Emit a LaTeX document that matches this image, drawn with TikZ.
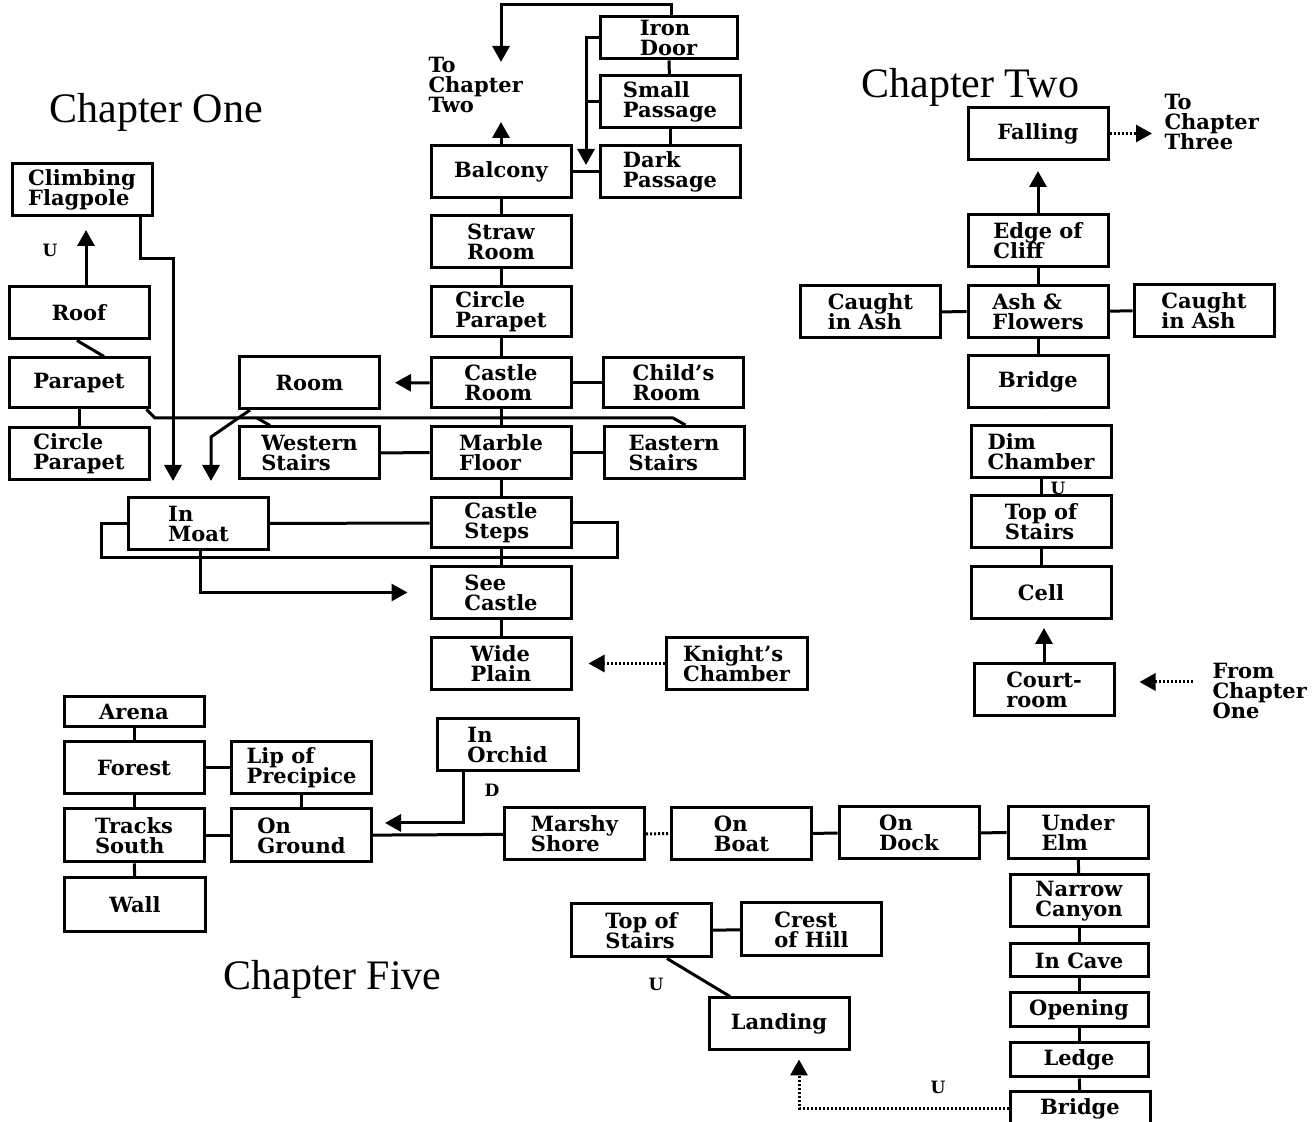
\documentclass[tikz,border=0pt]{standalone}
\usepackage{fontspec}
\setmainfont{DejaVu Serif}
\newfontfamily\chapfont{Liberation Serif}
\usetikzlibrary{arrows.meta,calc}
\lineskiplimit=-20pt
\newcommand\scenefont{\bfseries\fontsize{10.5}{10}\selectfont}

\begin{document}
\begin{tikzpicture}[x=0.5pt,y=-0.5pt,line width=1.5pt,
  scene/.style={draw,minimum width=70pt,minimum height=26pt,inner sep=0pt,align=left,font=\scenefont},
  lbl/.style={inner sep=0pt,align=left,font=\scenefont},
  tag/.style={inner sep=0pt,font=\bfseries\fontsize{8.5}{8.5}\selectfont},
  chap/.style={inner sep=0pt,anchor=base west,font=\chapfont\fontsize{21}{21}\selectfont},
  arr/.style={-{Triangle[length=8pt,width=8.5pt]}},
  dots/.style={dash pattern=on 1pt off 1pt}]
\useasboundingbox (0,0) rectangle (1314,1122);
\clip (0,0) rectangle (1314,1122);

\node[chap] (chone) at (48,123) {Chapter One};
\node[chap] (chtwo) at (860,98) {Chapter Two};
\node[chap] (chfive) at (222,990) {Chapter Five};

\node[scene] (flagpole) at (82,189.5) {Climbing\\Flagpole};
\node[scene] (roof) at (79,313) {Roof};
\node[scene,minimum height=25pt] (parapet) at (79,383) {Parapet};
\node[scene] (circpar) at (79,453.5) {Circle\\Parapet};
\node[scene] (sideroom) at (309.5,382.5) {Room};
\node[scene] (western) at (309.5,453) {Western\\Stairs};
\node[scene] (moat) at (198.5,523.5) {In\\Moat};
\node[tag] (u1) at (50,250) {U};

\node[scene] (balcony) at (501,171.5) {Balcony};
\node[scene] (straw) at (501,242) {Straw\\Room};
\node[scene,minimum height=25pt] (circle2) at (501,312) {Circle\\Parapet};
\node[scene,minimum height=25pt] (castleroom) at (501,383) {Castle\\Room};
\node[scene,minimum height=25pt] (childs) at (673.5,383) {Child's\\Room};
\node[scene] (marble) at (501,452.5) {Marble\\Floor};
\node[scene] (eastern) at (674,452.5) {Eastern\\Stairs};
\node[scene,minimum height=25pt] (steps) at (501,523) {Castle\\Steps};
\node[scene] (seecastle) at (501,592.5) {See\\Castle};
\node[scene] (wideplain) at (501,663.5) {Wide\\Plain};
\node[scene,minimum width=70.5pt] (knight) at (736.5,663.5) {Knight's\\Chamber};
\node[scene,minimum width=68.5pt,minimum height=21pt] (irondoor) at (668.5,38) {Iron\\Door};
\node[scene] (smallpass) at (670,101.5) {Small\\Passage};
\node[scene] (darkpass) at (670,171.5) {Dark\\Passage};
\node[lbl,anchor=north west] (totwo) at (427,56) {To\\Chapter\\Two};

\node[scene] (falling) at (1038,133.5) {Falling};
\node[scene] (edge) at (1038,241) {Edge of\\Cliff};
\node[scene] (ash) at (1038,311.5) {Ash \&\\Flowers};
\node[scene] (caughtl) at (870.5,312) {Caught\\in Ash};
\node[scene] (caughtr) at (1204,310.5) {Caught\\in Ash};
\node[scene] (bridgetwo) at (1038,381.5) {Bridge};
\node[scene] (dim) at (1041,451.5) {Dim\\Chamber};
\node[scene] (topstairs) at (1041,521.5) {Top of\\Stairs};
\node[scene] (cell) at (1041,592.5) {Cell};
\node[scene] (court) at (1044,690) {Court-\\room};
\node[lbl,anchor=north west] (tothree) at (1163,93) {To\\Chapter\\Three};
\node[lbl,anchor=north west] (fromone) at (1211,662) {From\\Chapter\\One};
\node[tag] (u2) at (1058,488) {U};

\node[scene,minimum height=15pt] (arena) at (134,712) {Arena};
\node[scene] (forest) at (134,768) {Forest};
\node[scene] (lip) at (301.5,768) {Lip of\\Precipice};
\node[scene,minimum height=26.5pt] (tracks) at (134,835.5) {Tracks\\South};
\node[scene,minimum height=26.5pt] (ground) at (301.5,835.5) {On\\Ground};
\node[scene,minimum width=70.5pt,minimum height=27pt] (wall) at (135,905) {Wall};
\node[scene,minimum width=70.5pt] (orchid) at (507.5,745) {In\\Orchid};
\node[scene] (marshy) at (574.5,834) {Marshy\\Shore};
\node[scene] (boat) at (741.5,833.5) {On\\Boat};
\node[scene] (dock) at (909,833) {On\\Dock};
\node[scene] (elm) at (1078,832.5) {Under\\Elm};
\node[scene,minimum width=69pt] (canyon) at (1079,901) {Narrow\\Canyon};
\node[scene,minimum width=69pt,minimum height=16.5pt] (cave) at (1079,960.5) {In Cave};
\node[scene,minimum width=69pt,minimum height=17pt] (opening) at (1079,1010) {Opening};
\node[scene,minimum width=69pt,minimum height=17pt] (ledge) at (1079,1060) {Ledge};
\node[scene,minimum height=17pt] (bridgefive) at (1080,1109) {Bridge};
\node[scene,minimum height=26.5pt] (topfive) at (641.5,930.5) {Top of\\Stairs};
\node[scene,minimum height=26.5pt] (crest) at (811.5,929.5) {Crest\\of Hill};
\node[scene] (landing) at (779,1024) {Landing};
\node[tag] (d1) at (492,790) {D};
\node[tag] (u3) at (656,984) {U};
\node[tag] (u4) at (938,1087) {U};

\coordinate (flagin) at (86,230);
\draw[arr] (roof.north -| flagin) -- (flagin);
\draw ($(roof.south)+(-2,0)$) -- ($(parapet.north)+(25,0)$);
\path (parapet) edge (circpar);
\draw[arr,shorten >=7.5pt] ($(flagpole.south)+(58,0)$) -- ++(0,42) -| ($(moat.north)+(-25.5,0)$);
\draw[arr,shorten >=7.5pt] ($(sideroom.south)+(-59.5,0)$) -- ++(-39,27) -- ($(moat.north)+(12.5,0)$);
\draw ($(parapet.south east)+(-4,0)$) -- (155,418) -- (673,418) -- ($(eastern.north west)+(83,0)$);
\draw ($(western.north west)+(32,0)$) -- (257,418);
\path (western) edge (marble);
\draw[arr,shorten >=7pt] (castleroom) -- (sideroom);
\path (moat) edge (steps);
\draw (moat.west) -- ++(-26,0) |- (617,558) |- (steps.east);
\draw[arr,shorten >=11pt] ($(moat.south)+(1.5,0)$) |- (seecastle.west);

\path (balcony) edge (straw) (straw) edge (circle2) (circle2) edge (castleroom)
  (castleroom) edge (marble) (marble) edge (steps) (steps) edge (seecastle) (seecastle) edge (wideplain);
\path (castleroom) edge (childs) (marble) edge (eastern);
\path (balcony) edge (darkpass) (irondoor) edge (smallpass) (smallpass) edge (darkpass);
\coordinate (twoup) at (501,122);
\draw[arr] (balcony.north) -- (twoup);
\coordinate (twodown) at (501,62);
\draw[arr] ($(irondoor.north)+(3,0)$) -- ++(0,-11) -| (twodown);
\coordinate (darkin) at (586,165);
\draw[arr] (irondoor.west) -- (irondoor.west -| darkin) -- (darkin);
\draw (smallpass.west) -- (smallpass.west -| darkin);
\draw[arr,dots,shorten >=8pt] (knight) -- (wideplain);

\path (edge) edge (ash) (ash) edge (bridgetwo) (bridgetwo) edge (bridgetwo.south -| dim.north)
  (dim) edge (topstairs) (topstairs) edge (cell);
\path (caughtl) edge (ash) (ash) edge (caughtr);
\draw[arr,shorten >=5pt] (edge) -- (falling);
\coordinate (threeout) at (1152,133.5);
\draw[arr,dots] (falling) -- (threeout);
\draw[arr,shorten >=4pt] (court.north) -- (court.north |- cell.south);
\coordinate (onein) at (1193,682);
\draw[arr,dots,shorten >=12pt] (onein) -- (onein -| court.east);

\path (arena) edge (forest) (forest) edge (tracks) (tracks) edge (wall) (forest) edge (lip)
  (tracks) edge (ground) (lip) edge (ground) (ground) edge (marshy) (boat) edge (dock) (dock) edge (elm)
  (elm) edge (canyon) (canyon) edge (cave) (cave) edge (opening) (opening) edge (ledge)
  (ledge) edge (bridgefive) (topfive) edge (crest);
\draw[dots] (marshy) -- (boat);
\draw[arr,shorten >=6pt] ($(orchid.south)+(-44.5,0)$) |- ($(ground.east)+(0,-12.5)$);
\draw ($(topfive.south)+(25.5,0)$) -- ($(landing.north)+(-49,0)$);
\draw[arr,dots,shorten >=4pt] (bridgefive.west) -| ($(landing.south)+(20,0)$);
\end{tikzpicture}
\end{document}
